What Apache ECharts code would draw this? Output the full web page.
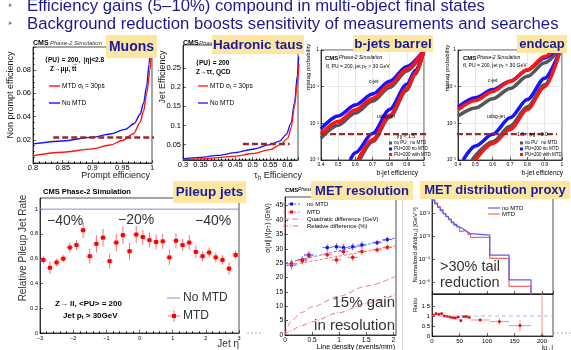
<!DOCTYPE html>
<html><head><meta charset="utf-8">
<script src="https://cdn.jsdelivr.net/npm/echarts@6.0.0/dist/echarts.min.js"></script>
<style>html,body{margin:0;padding:0;background:#fff;}#c{width:571px;height:350px;}</style>
</head><body><div id="c"></div>
<script>
// ---------------- DATA ----------------
// Muons: [prompt efficiency, non-prompt efficiency]
const muonNoMTD = [[0.8,0.0165],[0.85,0.019],[0.9,0.0223],[0.93,0.025],[0.955,0.029],[0.97,0.034],[0.98,0.042],[0.986,0.052],[0.991,0.066],[0.995,0.085],[0.997,0.1]];
const muonMTD = [[0.8,0.0064],[0.85,0.0093],[0.9,0.0122],[0.93,0.0155],[0.95,0.0194],[0.969,0.0252],[0.98,0.035],[0.986,0.045],[0.991,0.06],[0.9966,0.08],[0.9995,0.1]];
const muonWP = [[0.834,0.022],[1.008,0.022]];
// Hadronic taus: [tau_h efficiency, jet efficiency]
const tauNoMTD = [[0.3,0.013],[0.35,0.017],[0.4,0.022],[0.45,0.029],[0.5,0.038],[0.55,0.05],[0.577,0.059],[0.596,0.076],[0.61,0.106],[0.62,0.16],[0.628,0.23],[0.632,0.28]];
const tauMTD = [[0.3,0.011],[0.35,0.013],[0.4,0.016],[0.45,0.02],[0.5,0.027],[0.55,0.037],[0.58,0.05],[0.601,0.067],[0.61,0.093],[0.62,0.15],[0.628,0.21],[0.633,0.26]];
const tauWP = [[0.472,0.052],[0.606,0.052]];
// b-jets barrel: [b-jet efficiency, mistag probability]
const barrelC_noPU = [[0.4,0.00398],[0.5,0.00891],[0.6,0.0191],[0.7,0.0398],[0.8,0.0955],[0.9,0.269],[1.0,1]];
const barrelC_PUnoMTD = [[0.4,0.00708],[0.5,0.0158],[0.6,0.0316],[0.7,0.0631],[0.8,0.141],[0.9,0.355],[1.0,1]];
const barrelC_PUMTD = [[0.4,0.00501],[0.5,0.0112],[0.6,0.0234],[0.7,0.0479],[0.8,0.112],[0.9,0.302],[1.0,1]];
const barrelL_noPU = [[0.625,0.001],[0.7,0.00316],[0.8,0.0148],[0.9,0.0794],[0.95,0.219],[1.0,1]];
const barrelL_PUnoMTD = [[0.57,0.001],[0.6,0.00158],[0.7,0.00525],[0.8,0.024],[0.9,0.117],[0.95,0.282],[1.0,1]];
const barrelL_PUMTD = [[0.615,0.001],[0.7,0.00355],[0.8,0.0166],[0.9,0.0891],[0.95,0.24],[1.0,1]];
const barrelWP = [[0.4,0.0051],[1.035,0.0051]];
// b-jets endcap
const endcapC_noPU = [[0.4,0.0158],[0.5,0.0263],[0.6,0.0468],[0.7,0.0891],[0.8,0.191],[0.9,0.447],[0.98,1]];
const endcapC_PUnoMTD = [[0.4,0.0282],[0.5,0.0501],[0.6,0.0832],[0.7,0.141],[0.8,0.282],[0.9,0.603],[0.96,1]];
const endcapC_PUMTD = [[0.4,0.0234],[0.5,0.0417],[0.6,0.0741],[0.7,0.138],[0.8,0.288],[0.9,0.661],[0.95,1]];
const endcapL_noPU = [[0.48,0.001],[0.6,0.00316],[0.7,0.00832],[0.8,0.0282],[0.9,0.112],[0.99,1]];
const endcapL_PUnoMTD = [[0.43,0.001],[0.5,0.0024],[0.6,0.00501],[0.7,0.0141],[0.8,0.0447],[0.9,0.17],[0.99,1]];
const endcapL_PUMTD = [[0.5,0.001],[0.6,0.00282],[0.7,0.00676],[0.8,0.024],[0.9,0.1],[0.99,1]];
const endcapWP = [[0.238,0.0051],[0.972,0.0051]];
// Pileup jets
const etaCenters = [-2.9,-2.7,-2.5,-2.3,-2.1,-1.9,-1.7,-1.5,-1.3,-1.1,-0.9,-0.7,-0.5,-0.3,-0.1,0.1,0.3,0.5,0.7,0.9,1.1,1.3,1.5,1.7,1.9,2.1,2.3,2.5,2.7,2.9];
const pileupMTD = [0.59,0.527,0.57,0.60,0.69,0.71,0.83,0.62,0.72,0.77,0.58,0.73,0.79,0.66,0.795,0.775,0.75,0.735,0.74,0.61,0.745,0.71,0.73,0.655,0.62,0.65,0.61,0.59,0.52,0.63];
const pileupErr = [0.03,0.05,0.03,0.03,0.04,0.04,0.065,0.06,0.07,0.07,0.06,0.07,0.07,0.07,0.07,0.06,0.06,0.06,0.06,0.06,0.06,0.05,0.06,0.05,0.04,0.04,0.04,0.04,0.05,0.035];
const etaHalfWidth = 0.1;
const pileupNoMTD = [[-3,1],[3,1]];
// MET resolution
const densNoMTD = [0.12,0.32,0.44,0.78,0.95,1.08,1.25,1.42,1.7,1.89];
const resNoMTD = [24.3,26.2,27.9,30.4,30.7,30.4,30.7,31.3,32.1,33.2];
const resNoMTDErr = [1.5,1.3,1.2,1.2,1.2,1.2,1.2,1.2,1.0,1.0];
const densMTD = [0.12,0.32,0.44,0.78,0.95,1.08,1.25,1.42,1.7,1.89];
const resMTD = [24.8,25.8,27.6,27.9,26.1,29.0,27.0,29.0,29.6,30.5];
const resMTDErr = [1.5,1.3,1.2,1.2,1.2,1.2,1.2,1.2,1.0,1.0];
const densHalfWidth = 0.09;
const fitNoMTD = [[0,25],[2.05,33.8]];
const fitMTD = [[0,24],[2.05,31]];
const quadDiff = [[0,0],[0.1,4.5],[0.3,7.8],[0.5,9.8],[1,13.5],[1.5,17],[2.05,20.5]];
const relDiff = [[0,0],[0.1,1.5],[0.3,3.2],[0.5,4.6],[1,7.8],[1.5,11],[2.05,14.2]];
// MET distribution proxy
const uEdges = [0,5,10,15,20,25,30,35,40,45,50,55,60,65,70,105,140,180,220];
const distNoMTD = [0.0355,0.0251,0.0178,0.0126,0.0095,0.0071,0.0054,0.0040,0.0032,0.0025,0.0021,0.0018,0.0015,0.00126,0.0011,0.000148,0.0000123,0.0000001];
const distMTD = [0.037,0.028,0.019,0.014,0.0095,0.0069,0.0051,0.0037,0.0029,0.0024,0.0016,0.00175,0.00145,0.00117,0.00088,0.000107,0.0000064,0.0000001];
const ratioCenters = [2.5,7.5,12.5,17.5,22.5,27.5,32.5,37.5,42.5,47.5,52.5,57.5,62.5,67.5,87.5,122.5,160,200];
const ratioHalf = [2.5,2.5,2.5,2.5,2.5,2.5,2.5,2.5,2.5,2.5,2.5,2.5,2.5,2.5,17.5,17.5,20,20];
const ratioVal = [1.05,1.12,1.08,1.12,1.0,0.98,0.95,0.92,0.9,0.95,0.77,0.97,0.97,0.93,0.8,0.72,0.52,0.0];
const ratioErr = [0.03,0.03,0.03,0.03,0.03,0.03,0.04,0.04,0.04,0.05,0.06,0.06,0.07,0.07,0.1,0.18,0.3,2.1];
const ratioRef = [[0,1],[220,1]];

// ---------------- HELPERS ----------------
const FONT = '"Liberation Sans", Arial, sans-serif';
const BLUE = '#1414ff', RED = '#ff1414', GRAY = '#555555';
const HDR = '#1a1a8e', BOXFILL = '#fce6a0', BOXTXT = '#1a1a9e';
function merge(a, b) { const o = Object.assign({}, a); for (const k in b) { if (b[k] && typeof b[k] === 'object' && !Array.isArray(b[k]) && a[k] && typeof a[k] === 'object') o[k] = merge(a[k], b[k]); else o[k] = b[k]; } return o; }
function ax(gi, o) {
  return merge({gridIndex: gi, type: 'value',
    axisLine: {show: true, onZero: false, lineStyle: {color: '#000', width: 0.7}},
    axisTick: {show: true, inside: true, length: 3, lineStyle: {color: '#000', width: 0.6}},
    minorTick: {show: false},
    splitLine: {show: false},
    axisLabel: {fontSize: 6, color: '#000', fontFamily: FONT, margin: 2}}, o || {});
}
const SUP = {'-1':'⁻¹','-2':'⁻²','-3':'⁻³','-4':'⁻⁴','-5':'⁻⁵'};
function logFmt(v) { const e = Math.round(Math.log10(v)); return e === 0 ? '1' : '10' + SUP[String(e)]; }
function trim(v) { return String(+v.toFixed(2)); }
function T(x, y, text, o) {
  o = o || {};
  return {type: 'text', x: x, y: y, rotation: o.rot ? Math.PI / 2 : 0, z: 100,
    style: {text: text, fontSize: o.size || 8, fontFamily: FONT, fontWeight: o.bold ? 'bold' : 'normal',
      fontStyle: o.italic ? 'italic' : 'normal', fill: o.color || '#000', align: o.align || 'left', verticalAlign: 'middle',
      rich: {s: {fontSize: (o.size || 8) * 0.7, fontFamily: FONT, fontWeight: o.bold ? 'bold' : 'normal', fill: o.color || '#000', padding: [(o.size || 8) * 0.45, 0, 0, 0]}}}};
}
function L(x1, y1, x2, y2, color, w, dash) { return {type: 'line', z: 100, shape: {x1, y1, x2, y2}, style: {stroke: color, lineWidth: w || 1, lineDash: dash || null}}; }
function R(x, y, w, h, fill, z) { return {type: 'rect', z: z || 100, shape: {x, y, width: w, height: h}, style: {fill}}; }
function BOX(x, y, w, h, text, size) {
  return [R(x, y, w, h, BOXFILL, 110),
    {type: 'text', z: 111, x: x + w / 2, y: y + h / 2 + 0.5, style: {text, fontSize: size, fontWeight: 'bold', fontFamily: FONT, fill: BOXTXT, align: 'center', verticalAlign: 'middle'}}];
}
function curve(xi, yi, data, color, width, extra) {
  return merge({type: 'line', xAxisIndex: xi, yAxisIndex: yi, data: data, showSymbol: false, symbol: 'none', smooth: 0.3, smoothMonotone: 'x',
    lineStyle: {color: color, width: width || 1.3}, silent: true, animation: false}, extra || {});
}
function errSeries(xi, yi, xs, ys, exs, eys, markColor, barColor, msize) {
  const data = xs.map((x, i) => [x, ys[i], Array.isArray(exs) ? exs[i] : exs, Array.isArray(eys) ? eys[i] : eys]);
  return {type: 'custom', xAxisIndex: xi, yAxisIndex: yi, data: data, animation: false, silent: true, clip: true,
    renderItem: function (params, api) {
      const x = api.value(0), y = api.value(1), ex = api.value(2), ey = api.value(3);
      const c = api.coord([x, y]), l = api.coord([x - ex, y]), r = api.coord([x + ex, y]);
      const t = api.coord([x, y + ey]), b = api.coord([x, Math.max(y - ey, 0)]);
      const s = msize || 3;
      return {type: 'group', children: [
        {type: 'line', shape: {x1: l[0], y1: c[1], x2: r[0], y2: c[1]}, style: {stroke: barColor, lineWidth: 1}},
        {type: 'line', shape: {x1: c[0], y1: t[1], x2: c[0], y2: b[1]}, style: {stroke: barColor, lineWidth: 1}},
        {type: 'rect', shape: {x: c[0] - s / 2, y: c[1] - s / 2, width: s, height: s}, style: {fill: markColor}}]};
    }};
}
function steps(edges, vals) { const out = []; vals.forEach((v, i) => { out.push([edges[i], v]); out.push([edges[i + 1], v]); }); return out; }

// ---------------- GRIDS ----------------
const G = (left, top, width, height) => ({left, top, width, height, show: true, borderColor: '#000', borderWidth: 0.7, backgroundColor: 'transparent', outerBoundsMode: 'none', containLabel: false});
const grids = [
  G(33, 47, 119, 116),   // 0 muons
  G(183, 45, 115, 115),  // 1 taus
  G(321, 50, 103, 110),  // 2 barrel
  G(458, 50, 104, 110),  // 3 endcap
  G(40, 198, 199, 135),  // 4 pileup
  G(285, 197, 111, 138), // 5 MET resolution
  G(432, 198, 121, 96),  // 6 MET distribution
  G(432, 294, 121, 42)   // 7 ratio
];
const gridLines = {show: true, lineStyle: {color: '#d0d0d0', width: 0.5}};
const xAxes = [
  ax(0, {min: 0.8, max: 1, interval: 0.05, minorTick: {show: true, splitNumber: 5, length: 1.5}, axisLabel: {fontSize: 7.5, margin: 1, formatter: trim}}),
  ax(1, {min: 0.3, max: 0.63, interval: 0.05, minorTick: {show: true, splitNumber: 5, length: 1.5}, axisLabel: {fontSize: 7.5, margin: 1, formatter: trim}}),
  ax(2, {min: 0.4, max: 1, interval: 0.1, splitLine: gridLines, axisLabel: {fontSize: 5, formatter: trim}}),
  ax(3, {min: 0.4, max: 1, interval: 0.1, splitLine: gridLines, axisLabel: {fontSize: 5, formatter: trim}}),
  ax(4, {min: -3, max: 3, interval: 1, minorTick: {show: true, splitNumber: 5, length: 1.5}, axisLabel: {fontSize: 5.5, formatter: v => v < 0 ? '−' + (-v) : String(v)}}),
  ax(5, {min: 0, max: 2.05, axisLabel: {fontSize: 6.5, customValues: [0, 0.5, 1, 1.5, 2], formatter: trim}, axisTick: {customValues: [0, 0.5, 1, 1.5, 2]}}),
  ax(6, {min: 0, max: 220, interval: 50, axisLabel: {show: false}}),
  ax(7, {min: 0, max: 220, axisLabel: {fontSize: 6, customValues: [0, 50, 100, 150, 200]}, axisTick: {customValues: [0, 50, 100, 150, 200]}})
];
const yAxes = [
  ax(0, {min: 0, max: 0.1, interval: 0.02, minorTick: {show: true, splitNumber: 4, length: 1.5}, axisLabel: {fontSize: 7.5, showMinLabel: false, showMaxLabel: false, formatter: trim}}),
  ax(1, {min: 0.01, max: 0.31, axisLabel: {fontSize: 7.5, customValues: [0.05, 0.1, 0.15, 0.2, 0.25], formatter: trim}, axisTick: {customValues: [0.05, 0.1, 0.15, 0.2, 0.25]}}),
  ax(2, {type: 'log', logBase: 10, min: 0.001, max: 1, splitLine: gridLines, axisLabel: {fontSize: 5, formatter: logFmt}}),
  ax(3, {type: 'log', logBase: 10, min: 0.001, max: 1, splitLine: gridLines, axisLabel: {fontSize: 5, formatter: logFmt}}),
  ax(4, {min: 0, max: 1.09, axisLabel: {fontSize: 5.5, customValues: [0, 0.2, 0.4, 0.6, 0.8, 1], formatter: trim}, axisTick: {customValues: [0, 0.2, 0.4, 0.6, 0.8, 1]}}),
  ax(5, {min: 0, max: 48, axisLabel: {fontSize: 6.5, customValues: [0, 5, 10, 15, 20, 25, 30, 35, 40, 45]}, axisTick: {customValues: [0, 5, 10, 15, 20, 25, 30, 35, 40, 45]}}),
  ax(6, {type: 'log', logBase: 10, min: 3e-6, max: 0.045, axisLabel: {fontSize: 6, customValues: [1e-5, 1e-4, 1e-3, 1e-2], formatter: logFmt}, axisTick: {customValues: [1e-5, 1e-4, 1e-3, 1e-2]}}),
  ax(7, {min: 0, max: 2.1, axisLabel: {fontSize: 6, customValues: [0, 0.5, 1, 1.5], formatter: trim}, axisTick: {customValues: [0, 0.5, 1, 1.5]}})
];

// ---------------- SERIES ----------------
const WP = (xi, data, w) => curve(xi, xi, data, '#9a2a2a', w || 2.5, {smooth: false, clip: false, lineStyle: {type: [6, 3]}, z: 5});
const series = [
  curve(0, 0, muonNoMTD, BLUE, 1.4), curve(0, 0, muonMTD, RED, 1.4), WP(0, muonWP),
  curve(1, 1, tauNoMTD, BLUE, 1.3), curve(1, 1, tauMTD, RED, 1.3), WP(1, tauWP),
  curve(2, 2, barrelC_noPU, GRAY, 3.5), curve(2, 2, barrelC_PUnoMTD, BLUE, 3.5), curve(2, 2, barrelC_PUMTD, RED, 3.5),
  curve(2, 2, barrelL_noPU, GRAY, 3.5), curve(2, 2, barrelL_PUnoMTD, BLUE, 3.5), curve(2, 2, barrelL_PUMTD, RED, 3.5), WP(2, barrelWP, 2.2),
  curve(3, 3, endcapC_noPU, GRAY, 3.5), curve(3, 3, endcapC_PUnoMTD, BLUE, 3.5), curve(3, 3, endcapC_PUMTD, RED, 3.5),
  curve(3, 3, endcapL_noPU, GRAY, 3.5), curve(3, 3, endcapL_PUnoMTD, BLUE, 3.5), curve(3, 3, endcapL_PUMTD, RED, 3.5), WP(3, endcapWP, 2.2),
  curve(4, 4, pileupNoMTD, '#8a8af2', 1, {smooth: false}),
  errSeries(4, 4, etaCenters, pileupMTD, etaHalfWidth, pileupErr, '#ff0000', '#f27575', 4),
  curve(5, 5, fitNoMTD, '#4a4aff', 0.8, {smooth: false, lineStyle: {type: [3, 2]}}),
  curve(5, 5, fitMTD, '#ff4a4a', 0.8, {smooth: false, lineStyle: {type: [3, 2]}}),
  curve(5, 5, quadDiff, '#f08080', 1, {lineStyle: {type: [6, 3]}}),
  curve(5, 5, relDiff, '#e84545', 0.8, {lineStyle: {type: [5, 2, 1, 2]}}),
  errSeries(5, 5, densNoMTD, resNoMTD, densHalfWidth, resNoMTDErr, '#1010e0', '#6a6aff', 3),
  errSeries(5, 5, densMTD, resMTD, densHalfWidth, resMTDErr, '#e01010', '#ff6a6a', 3),
  curve(6, 6, steps(uEdges, distMTD), '#f06a6a', 1.2, {smooth: false}),
  curve(6, 6, steps(uEdges, distNoMTD), '#5a5af5', 1.2, {smooth: false}),
  curve(7, 7, ratioRef, '#a0a0f0', 0.8, {smooth: false, lineStyle: {type: [4, 3]}}),
  errSeries(7, 7, ratioCenters, ratioVal, ratioHalf, ratioErr, '#e00000', '#f29090', 2.5)
];

// ---------------- TEXT / DECOR ----------------
const g = [];
// header
g.push(T(8, 6, '‣', {size: 13, color: '#808080'}), T(27, 6, 'Efficiency gains (5–10%) compound in multi-object final states', {size: 16.7, color: HDR}));
g.push(T(8, 24, '‣', {size: 13, color: '#808080'}), T(27, 24, 'Background reduction boosts sensitivity of measurements and searches', {size: 16.7, color: HDR}));
// muons
g.push(T(33, 43, 'CMS', {bold: true, size: 7}), T(50, 43, 'Phase-2 Simulation', {italic: true, size: 6, color: '#333'}));
g.push(T(45, 60, '⟨PU⟩ = 200,  |η|<2.8', {bold: true, size: 6.5}), T(50, 69, 'Z→μμ, tt̄', {bold: true, size: 6.5}));
g.push(L(49, 86, 60, 86, RED, 1.4), T(62, 86, 'MTD σ{s|t} = 30ps', {size: 6.5}));
g.push(L(49, 103, 60, 103, BLUE, 1.4), T(62, 103, 'No MTD', {size: 6.5}));
g.push(T(150, 176, 'Prompt efficiency', {size: 9, align: 'right', color: '#222'}), T(11, 95, 'Non prompt efficiency', {size: 9, rot: true, align: 'center', color: '#222'}));
// taus
g.push(T(183, 43, 'CMS', {bold: true, size: 7}), T(199, 43, 'Phase-2 Simulation', {italic: true, size: 6, color: '#333'}));
g.push(T(196, 63, '⟨PU⟩ = 200', {bold: true, size: 6.5}), T(196, 72, 'Z→ττ, QCD', {bold: true, size: 6.5}));
g.push(L(198, 86, 208, 86, RED, 1.3), T(210, 86, 'MTD σ{s|t} = 30ps', {size: 6.5}));
g.push(L(198, 103, 208, 103, BLUE, 1.3), T(210, 103, 'No MTD', {size: 6.5}));
g.push(T(302, 176, 'τ{s|h} Efficiency', {size: 9, align: 'right', color: '#222'}), T(163, 77, 'Jet Efficiency', {size: 9, rot: true, align: 'center', color: '#222'}));
// barrel
g.push(T(308, 67, 'mistag probability', {size: 6, rot: true, align: 'center'}));
g.push(T(325, 58, 'CMS', {bold: true, size: 6}), T(339, 58, 'Phase-2 Simulation', {italic: true, size: 5}));
g.push(T(326, 67, 'tt̄, PU = 200, jet p{s|T} > 30 GeV', {size: 5}));
g.push(T(369, 82, 'c-jet', {size: 5}), T(377, 117, 'udsg-jet', {size: 5}));
g.push(T(397, 137, '|η| < 1.5', {size: 5}));
g.push(R(389, 141.5, 3, 3, GRAY), T(394, 143, 'no PU   no MTD', {size: 4.5}));
g.push(R(389, 147.5, 3, 3, BLUE), T(394, 149, 'PU=200 no MTD', {size: 4.5}));
g.push(R(389, 153, 3, 3, RED), T(394, 154.5, 'PU=200 with MTD', {size: 4.5}));
g.push(T(418, 173, 'b-jet efficiency', {size: 6.5, align: 'right'}));
// endcap
g.push(T(447, 68, 'mistag probability', {size: 6, rot: true, align: 'center'}));
g.push(T(463, 58, 'CMS', {bold: true, size: 6}), T(477, 58, 'Phase-2 Simulation', {italic: true, size: 5}));
g.push(T(463, 66, 'tt̄, PU = 200, jet p{s|T} > 30 GeV', {size: 5}));
g.push(T(488, 81, 'c-jet', {size: 5}), T(487, 117, 'udsg-jet', {size: 5}));
g.push(T(517, 135, '1.5 < |η| < 3.0', {size: 5}));
g.push(R(520, 141.5, 3, 3, GRAY), T(525, 143, 'no PU   no MTD', {size: 4.5}));
g.push(R(520, 147.5, 3, 3, BLUE), T(525, 149, 'PU=200 no MTD', {size: 4.5}));
g.push(R(520, 153, 3, 3, RED), T(525, 154.5, 'PU=200 with MTD', {size: 4.5}));
g.push(T(563, 173, 'b-jet efficiency', {size: 6.5, align: 'right'}));
// pileup
g.push(T(43, 192, 'CMS Phase-2 Simulation', {bold: true, size: 7.5}));
g.push(T(47, 221, '−40%', {size: 14, color: '#333'}), T(118, 220, '−20%', {size: 14, color: '#333'}), T(195, 221, '−40%', {size: 14, color: '#333'}));
g.push(L(167, 298, 180, 298, '#8a8af2', 1), T(183, 298, 'No MTD', {size: 12, color: '#333'}));
g.push(L(168, 316, 180, 316, '#f27575', 1), L(174, 310, 174, 322, '#f27575', 1), R(172, 314, 4, 4, '#ff0000'), T(183, 316, 'MTD', {size: 12, color: '#333'}));
g.push(T(55, 304, 'Z→ ll, <PU> = 200', {bold: true, size: 8}), T(63, 316, 'Jet p{s|t} > 30GeV', {bold: true, size: 8}));
g.push(T(239, 344, 'Jet η', {size: 10, align: 'right', color: '#333'}), T(23, 248, 'Relative Pileup Jet Rate', {size: 10, rot: true, align: 'center', color: '#333'}));
g.push(L(247, 333, 263, 333, '#a8b0c8', 1, [2, 2]), L(553, 333, 571, 333, '#a8b0c8', 1, [2, 2]));
// MET resolution
g.push(T(285, 190, 'CMS', {bold: true, size: 6}), T(298, 190, 'Phase-2 Simulation', {italic: true, size: 5}));
g.push(T(268, 228, 'σ(u∥)/⟨p{s|T}⟩ (GeV)', {size: 6.5, rot: true, align: 'center'}));
g.push(L(283, 204, 300, 204, '#4a4aff', 0.8, [3, 2]), R(290, 202.5, 3, 3, '#1010e0'), T(307, 204, 'no MTD', {size: 6}));
g.push(L(283, 212, 300, 212, '#ff4a4a', 0.8, [3, 2]), R(290, 210.5, 3, 3, '#e01010'), T(307, 212, 'MTD', {size: 6}));
g.push(L(283, 219, 300, 219, '#f08080', 1, [6, 3]), T(307, 219, 'Quadratic difference (GeV)', {size: 6}));
g.push(L(283, 226, 300, 226, '#e84545', 0.8, [5, 2, 1, 2]), T(307, 226, 'Relative difference (%)', {size: 6}));
g.push(T(395, 303, '15% gain', {size: 15, align: 'right', color: '#333'}), T(395, 326, 'in resolution', {size: 15, align: 'right', color: '#333'}));
g.push(T(395, 347, 'Line density (events/mm)', {size: 7, align: 'right'}));
// MET distribution
g.push(T(415, 245, 'Normalized dN/d|u{s|⊥}| [GeV⁻¹]', {size: 6, rot: true, align: 'center'}), T(415, 305, 'Ratio', {size: 6, rot: true, align: 'center'}));
g.push(T(440, 267, '>30% tail', {size: 14.5, color: '#333'}), T(440, 283, 'reduction', {size: 14.5, color: '#333'}));
g.push(L(488, 208, 500, 208, '#5a5af5', 1.2), T(502, 208, 'no MTD', {size: 6}));
g.push(L(488, 214, 500, 214, '#f06a6a', 1.2), T(502, 214, 'MTD', {size: 6}));
g.push(T(553, 348, '|u{s|⊥}|', {size: 7, align: 'right'}));
g.push(L(402.5, 200, 402.5, 350, '#d8d8d8', 1));
// highlight boxes
g.push(...BOX(106, 35, 51, 23, 'Muons', 14));
g.push(...BOX(212, 35, 92, 19, 'Hadronic taus', 13.5));
g.push(...BOX(353, 35, 80, 17, 'b-jets barrel', 13.5));
g.push(...BOX(517, 35, 50, 18, 'endcap', 13));
g.push(...BOX(173, 181, 73, 22, 'Pileup jets', 13.5));
g.push(...BOX(311, 181, 102, 19, 'MET resolution', 13));
g.push(...BOX(420, 181, 150, 18, 'MET distribution proxy', 13));

const chart = echarts.init(document.getElementById('c'), null, {renderer: 'canvas'});
chart.setOption({animation: false, backgroundColor: '#fff', grid: grids, xAxis: xAxes, yAxis: yAxes, series: series, graphic: {elements: g}});
</script></body></html>
